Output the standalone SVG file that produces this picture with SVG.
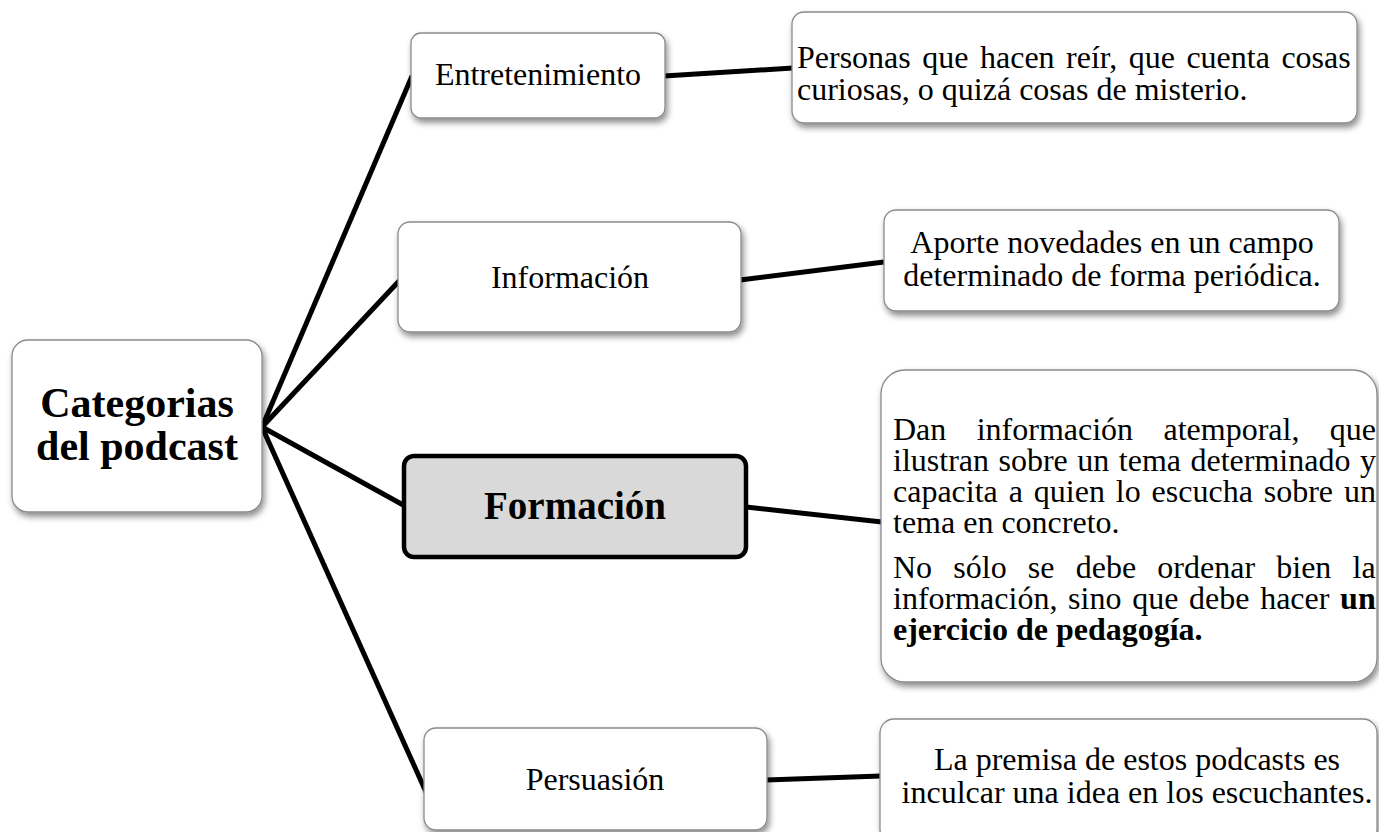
<svg xmlns="http://www.w3.org/2000/svg" width="1379" height="832" viewBox="0 0 1379 832">
<defs>
<filter id="sh" x="-10%" y="-10%" width="125%" height="140%">
<feDropShadow dx="2" dy="4" stdDeviation="3" flood-color="#000" flood-opacity="0.45"/>
</filter>
<style>
.box{fill:#fff;stroke:#8a8a8a;stroke-width:1.3;filter:url(#sh)}
.t{font-family:"Liberation Serif","Times New Roman",serif;font-size:32px;fill:#000}
.c{text-anchor:middle}
.b{font-weight:bold}
.big{font-size:42px}
.mid{font-size:39px}
.con line{stroke:#000;stroke-width:5;stroke-linecap:butt}
</style>
</defs>
<rect width="1379" height="832" fill="#fff"/>
<g id="connectors" class="con">
<line x1="262" y1="427" x2="412" y2="76"/>
<line x1="262" y1="427" x2="400" y2="280"/>
<line x1="262" y1="427" x2="405" y2="506"/>
<line x1="262" y1="427" x2="426" y2="792"/>
<line x1="664" y1="76" x2="793" y2="68"/>
<line x1="740" y1="280" x2="884" y2="262"/>
<line x1="746" y1="507" x2="882" y2="522"/>
<line x1="766" y1="780" x2="881" y2="776"/>
</g>
<g id="root">
<rect class="box" x="12" y="340" width="250" height="172" rx="16"/>
<text class="t c b big" x="137" y="417">Categorias</text>
<text class="t c b big" x="137" y="460">del podcast</text>
</g>
<g id="entretenimiento">
<rect class="box" x="411" y="33" width="254" height="85" rx="10"/>
<text class="t c" x="538" y="85">Entretenimiento</text>
</g>
<g id="entretenimiento-desc">
<rect class="box" x="792" y="12" width="565" height="111" rx="12"/>
<text class="t" x="797" y="68" word-spacing="3.5">Personas que hacen reír, que cuenta cosas</text>
<text class="t" x="797" y="100">curiosas, o quizá cosas de misterio.</text>
</g>
<g id="informacion">
<rect class="box" x="398" y="222" width="343" height="110" rx="12"/>
<text class="t c" x="570" y="288">Información</text>
</g>
<g id="informacion-desc">
<rect class="box" x="884" y="210" width="455" height="101" rx="12"/>
<text class="t c" x="1112" y="253">Aporte novedades en un campo</text>
<text class="t c" x="1112" y="286">determinado de forma periódica.</text>
</g>
<g id="formacion">
<rect x="404" y="456" width="342" height="101" rx="10" fill="#d9d9d9" stroke="#000" stroke-width="4.5"/>
<text class="t c b mid" x="575" y="519">Formación</text>
</g>
<g id="formacion-desc">
<rect class="box" x="881" y="370" width="496" height="312" rx="24"/>
<text class="t" x="893" y="440" word-spacing="22.4">Dan información atemporal, que</text>
<text class="t" x="893" y="471" word-spacing="1.5">ilustran sobre un tema determinado y</text>
<text class="t" x="893" y="502" word-spacing="2.9">capacita a quien lo escucha sobre un</text>
<text class="t" x="893" y="533">tema en concreto.</text>
<text class="t" x="893" y="578" word-spacing="13.2">No sólo se debe ordenar bien la</text>
<text class="t" x="893" y="609" word-spacing="2.7">información, sino que debe hacer <tspan class="b">un</tspan></text>
<text class="t b" x="893" y="640">ejercicio de pedagogía.</text>
</g>
<g id="persuasion">
<rect class="box" x="424" y="728" width="343" height="102" rx="12"/>
<text class="t c" x="595" y="790">Persuasión</text>
</g>
<g id="persuasion-desc">
<rect class="box" x="880" y="719" width="497" height="125" rx="14"/>
<text class="t c" x="1137" y="770">La premisa de estos podcasts es</text>
<text class="t c" x="1137" y="803">inculcar una idea en los escuchantes.</text>
</g>
</svg>
